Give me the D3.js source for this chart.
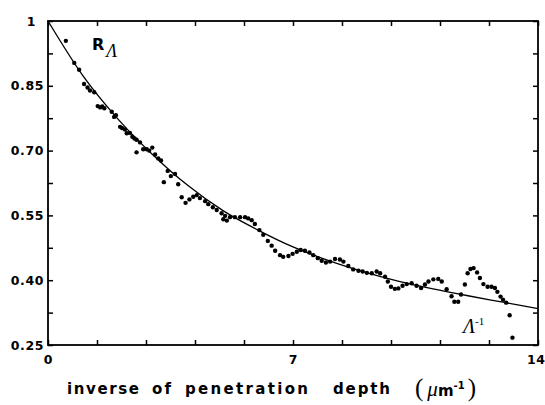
<!DOCTYPE html>
<html>
<head>
<meta charset="utf-8">
<script src="https://cdn.jsdelivr.net/npm/d3@7"></script>
<style>
  body { margin: 0; background: #fff; }
  svg { display: block; }
  .tick text { font-family: "DejaVu Sans", sans-serif; font-weight: bold; font-size: 12.5px; fill: #000; letter-spacing: 0.6px; }
  .tick line { stroke: #000; stroke-width: 1.5; }
</style>
</head>
<body>
<div id="chart"></div>
<script>
// measured points: inverse penetration depth (um^-1) vs R
const depth = [0.51,0.75,0.89,1.03,1.13,1.20,1.32,1.42,1.49,1.55,
  1.61,1.82,1.89,1.94,2.06,2.12,2.20,2.25,2.34,2.41,
  2.47,2.53,2.53,2.63,2.72,2.82,2.89,2.98,3.06,3.15,
  3.23,3.31,3.42,3.51,3.63,3.72,3.82,3.93,4.04,4.15,
  4.25,4.34,4.49,4.58,4.71,4.82,4.96,5.06,5.01,5.11,
  5.20,5.34,5.49,5.63,5.72,5.82,5.91,6.04,6.15,6.28,
  6.39,6.49,6.63,6.72,6.87,6.99,7.11,7.22,7.34,7.47,
  7.58,7.71,7.82,7.94,8.06,8.20,8.34,8.44,8.58,8.72,
  8.87,8.99,9.11,9.25,9.39,9.49,9.63,9.71,9.80,9.91,
  10.01,10.13,10.25,10.39,10.53,10.66,10.77,10.87,11.01,11.15,
  11.25,11.39,11.53,11.61,11.72,11.80,11.91,11.99,12.07,12.16,
  12.26,12.34,12.44,12.56,12.67,12.77,12.84,12.93,13.00,13.09,
  13.19,13.27];
const reflect = [0.954,0.903,0.887,0.854,0.846,0.839,0.835,0.803,0.800,0.802,
  0.798,0.790,0.778,0.782,0.755,0.752,0.749,0.740,0.741,0.732,
  0.728,0.725,0.696,0.719,0.703,0.703,0.700,0.707,0.691,0.682,
  0.677,0.627,0.653,0.641,0.646,0.622,0.592,0.579,0.587,0.593,
  0.597,0.590,0.583,0.576,0.569,0.5625,0.555,0.549,0.541,0.538,
  0.546,0.546,0.546,0.546,0.543,0.539,0.530,0.516,0.505,0.491,
  0.480,0.468,0.458,0.454,0.456,0.461,0.466,0.470,0.468,0.464,
  0.458,0.451,0.445,0.441,0.443,0.449,0.448,0.443,0.433,0.425,
  0.422,0.420,0.417,0.416,0.420,0.416,0.408,0.397,0.385,0.380,
  0.381,0.387,0.391,0.393,0.387,0.382,0.390,0.397,0.402,0.403,
  0.397,0.379,0.363,0.350,0.350,0.367,0.390,0.416,0.426,0.428,
  0.418,0.405,0.391,0.385,0.385,0.382,0.373,0.362,0.355,0.348,
  0.319,0.267];

// fitted curve, read at whole units
const fitX = [0,1,2,3,4,5,6,7,8,9,10,11,12,13,14];
const fitR = [1.0,0.873,0.773,0.69,0.619,0.561,0.516,0.477,0.446,0.42,0.398,0.38,0.364,0.349,0.334];

const xLabels = [0, 7, 14];
const yLabels = [0.25, 0.40, 0.55, 0.70, 0.85, 1];

const width = 545;
const height = 405;

const x = d3.scaleLinear().domain([0, 14]).range([48, 538]);
const y = d3.scaleLinear().domain([0.25, 1]).range([345, 21]);

const xTicks = d3.range(0, 14.001, 1.4);
const yTicks = d3.range(0.25, 1.001, 0.075);
const isIn = (arr, v) => arr.some((a) => Math.abs(a - v) < 1e-6);

const svg = d3
  .select("#chart")
  .append("svg")
  .attr("width", width)
  .attr("height", height);

// ticks on all four sides, pointing inward
svg
  .append("g")
  .attr("transform", `translate(0,${y(0.25)})`)
  .call(
    d3.axisBottom(x).tickValues(xTicks).tickSizeInner(-5).tickSizeOuter(0).tickPadding(10)
      .tickFormat((d) => (isIn(xLabels, d) ? d3.format("d")(Math.round(d)) : ""))
  )
  .call((g) => g.select(".domain").remove())
  .call((g) =>
    g.selectAll(".tick text").filter((d) => Math.abs(d - 14) < 1e-6)
      .attr("text-anchor", "end").attr("dx", 7)
  );

svg
  .append("g")
  .attr("transform", `translate(0,${y(1)})`)
  .call(d3.axisTop(x).tickValues(xTicks).tickSizeInner(-5).tickSizeOuter(0).tickFormat(""))
  .call((g) => g.select(".domain").remove());

svg
  .append("g")
  .attr("transform", `translate(${x(0)},0)`)
  .call(
    d3.axisLeft(y).tickValues(yTicks).tickSizeInner(-5).tickSizeOuter(0).tickPadding(4)
      .tickFormat((d) => {
        if (!isIn(yLabels, d)) return "";
        return Math.abs(d - 1) < 1e-6 ? "1" : d3.format(".2f")(d);
      })
  )
  .call((g) => g.select(".domain").remove())
  .call((g) =>
    g.selectAll(".tick text").filter((d) => Math.abs(d - 1) < 1e-6).attr("dx", -8)
  );

svg
  .append("g")
  .attr("transform", `translate(${x(14)},0)`)
  .call(d3.axisRight(y).tickValues(yTicks).tickSizeInner(-5).tickSizeOuter(0).tickFormat(""))
  .call((g) => g.select(".domain").remove());

// frame
svg
  .append("rect")
  .attr("x", x(0))
  .attr("y", y(1))
  .attr("width", x(14) - x(0))
  .attr("height", y(0.25) - y(1))
  .attr("fill", "none")
  .attr("stroke", "#000")
  .attr("stroke-width", 1.8);

// fitted curve
const line = d3
  .line()
  .x((d) => x(d[0]))
  .y((d) => y(d[1]))
  .curve(d3.curveMonotoneX);

svg
  .append("path")
  .datum(d3.zip(fitX, fitR))
  .attr("d", line)
  .attr("fill", "none")
  .attr("stroke", "#000")
  .attr("stroke-width", 1.3);

// measured dots
svg
  .append("g")
  .selectAll("circle")
  .data(d3.zip(depth, reflect))
  .enter()
  .append("circle")
  .attr("cx", (d) => x(d[0]))
  .attr("cy", (d) => y(d[1]))
  .attr("r", 2.2)
  .attr("fill", "#000");

// R_Lambda label
const rl = svg
  .append("text")
  .attr("x", 92)
  .attr("y", 50)
  .attr("font-family", "DejaVu Sans, sans-serif")
  .attr("font-weight", "bold")
  .attr("font-size", 16)
  .text("R");
rl.append("tspan")
  .attr("dx", 2)
  .attr("dy", 7)
  .attr("font-family", "Liberation Serif, serif")
  .attr("font-style", "italic")
  .attr("font-weight", "normal")
  .attr("font-size", 18)
  .text("Λ");

// Lambda^-1 label
const li = svg
  .append("text")
  .attr("x", 463)
  .attr("y", 333)
  .attr("font-family", "Liberation Serif, serif")
  .attr("font-style", "italic")
  .attr("font-size", 20)
  .text("Λ");
li.append("tspan")
  .attr("dy", -8)
  .attr("font-style", "normal")
  .attr("font-size", 11)
  .text("-1");

// x-axis title
const titleWords = [
  ["inverse", 67, 72],
  ["of", 152, 19],
  ["penetration", 185, 123],
  ["depth", 333, 57]
];
svg
  .append("g")
  .selectAll("text")
  .data(titleWords)
  .enter()
  .append("text")
  .attr("x", (d) => d[1])
  .attr("y", 394)
  .attr("textLength", (d) => d[2])
  .attr("lengthAdjust", "spacing")
  .attr("font-family", "DejaVu Sans, sans-serif")
  .attr("font-weight", "bold")
  .attr("font-size", 15)
  .text((d) => d[0]);

const unit = svg
  .append("text")
  .attr("x", 415)
  .attr("y", 396)
  .attr("font-size", 15);
unit.append("tspan")
  .attr("font-family", "Liberation Serif, serif")
  .attr("font-size", 25)
  .text("(");
unit.append("tspan")
  .attr("dx", 4)
  .attr("font-family", "Liberation Serif, serif")
  .attr("font-style", "italic")
  .attr("font-size", 21)
  .text("μ");
unit.append("tspan")
  .attr("font-family", "DejaVu Sans, sans-serif")
  .attr("font-weight", "bold")
  .attr("font-size", 15)
  .text("m");
unit.append("tspan")
  .attr("dy", -7)
  .attr("font-family", "DejaVu Sans, sans-serif")
  .attr("font-weight", "bold")
  .attr("font-size", 10)
  .text("-1");
unit.append("tspan")
  .attr("dx", 3)
  .attr("dy", 7)
  .attr("font-family", "Liberation Serif, serif")
  .attr("font-size", 25)
  .text(")");
</script>
</body>
</html>
